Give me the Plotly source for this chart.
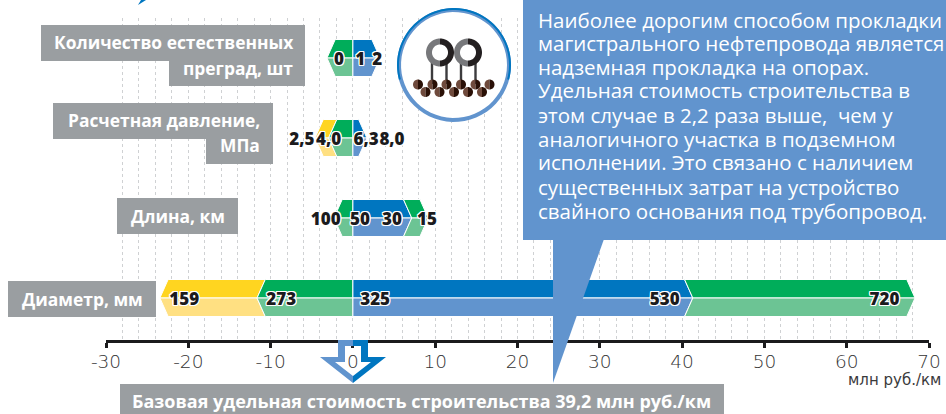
import numpy as np
import plotly.graph_objects as go

W, H = 946, 414
L, R, T, B = 106, 929, 18, 340

# ---- data ----
row_names = ["Диаметр, мм", "Длина, км", "Расчетная давление, МПа", "Количество естественных преград, шт"]
row_index = [0, 1, 2, 3]
# segment ends, млн руб./км, from the far negative end to the far positive end
diam_ends = [-23.45, -11.65, 0, 41.3, 68.3]
diam_colors = ["yellow", "green", "blue", "green"]
diam_labels = ["159", "273", "325", "530", "720"]
diam_label_x = [-20.5, -8.7, 2.7, 37.9, 64.6]

length_ends = [-2.3, 0, 7.15, 9.15]
length_colors = ["green", "blue", "green"]
length_labels = ["100", "50", "30", "15"]
length_label_x = [-3.3, 0.85, 4.75, 9.0]

press_ends = [-4.6, -2.95, 0, 1.7]
press_colors = ["yellow", "green", "blue"]
press_labels = ["2,5", "4,0", "6,3", "8,0"]
press_label_x = [-6.2, -2.95, 1.6, 4.75]

obst_ends = [-3.15, 0, 3.3]
obst_colors = ["green", "blue"]
obst_labels = ["0", "1", "2"]
obst_label_x = [-1.7, 0.9, 2.95]

tick_values = [-30, -20, -10, 0, 10, 20, 30, 40, 50, 60, 70]
tick_labels = ["-30", "-20", "-10", "0", "10", "20", "30", "40", "50", "60", "70"]

unit_text = "млн руб./км"
base_text = "Базовая удельная стоимость строительства 39,2 млн руб./км"
note_lines = [
    "Наиболее дорогим способом прокладки",
    "магистрального нефтепровода является",
    "надземная прокладка на опорах.",
    "Удельная стоимость строительства в",
    "этом случае в 2,2 раза выше,  чем у",
    "аналогичного участка в подземном",
    "исполнении. Это связано с наличием",
    "существенных затрат на устройство",
    "свайного основания под трубопровод.",
]

# ---- styles ----
DARK = {"yellow": "#FFD520", "green": "#00AD5A", "blue": "#0076C0"}
LIGHT = {"yellow": "#FFE082", "green": "#6CC494", "blue": "#6194CE"}
GRAY = "#9A9EA1"
INK = "#1B1B1D"
GRID = "#CFD1D3"
HALF = 18.5 / 80
CHEV = 1.0
LABEL_DROP = 0.03
HALO = "1px 1px 0 #fff,-1px -1px 0 #fff,1px -1px 0 #fff,-1px 1px 0 #fff,0 1px 0 #fff,0 -1px 0 #fff,1px 0 0 #fff,-1px 0 0 #fff"
SANS = "Open Sans"
LIGHTFONT = "Open Sans"
BOLD = 17.4


def sh(v):
    """Shoulder of a chevron tip at v."""
    return 0 if v == 0 else v - np.sign(v) * CHEV


fig = go.Figure()


def add_row(row, ends, colors, labels, label_x):
    for a, b, c in zip(ends[:-1], ends[1:], colors):
        for side, col in ((1, DARK[c]), (-1, LIGHT[c])):
            fig.add_trace(go.Scatter(
                x=[a, sh(a), sh(b), b, a],
                y=[row, row + side * HALF, row + side * HALF, row, row],
                mode="lines", fill="toself", fillcolor=col,
                line=dict(color="#ffffff", width=1), hoverinfo="skip", showlegend=False,
            ))
    fig.add_trace(go.Scatter(
        x=label_x, y=[row - LABEL_DROP] * len(labels), text=labels, mode="text",
        textposition="middle center",
        textfont=dict(family=SANS, size=17, color=INK, weight=800, shadow=HALO),
        hoverinfo="skip", showlegend=False,
    ))


add_row(row_index[0], diam_ends, diam_colors, diam_labels, diam_label_x)
add_row(row_index[1], length_ends, length_colors, length_labels, length_label_x)
add_row(row_index[2], press_ends, press_colors, press_labels, press_label_x)
add_row(row_index[3], obst_ends, obst_colors, obst_labels, obst_label_x)


# ---- page-pixel helpers for the decoration ----
def px(x):
    return (x - L) / (R - L)


def py(y):
    return (B - y) / (B - T)


def poly(points, close=True):
    s = "M " + " L ".join(f"{px(x):.5f},{py(y):.5f}" for x, y in points)
    return s + (" Z" if close else "")


shapes, annos = [], []


def add_poly(points, fill):
    shapes.append(dict(type="path", xref="paper", yref="paper", path=poly(points),
                       fillcolor=fill, line=dict(width=0), layer="above"))


def add_rect(x0, y0, x1, y1, fill):
    add_poly([(x0, y0), (x1, y0), (x1, y1), (x0, y1)], fill)


def arc(cx, cy, r, a0, a1, n=60):
    t = np.radians(np.linspace(a0, a1, n))
    return [(cx + r * np.cos(a), cy - r * np.sin(a)) for a in t]


def ring_part(cx, cy, r0, r1, a0, a1, fill):
    add_poly(arc(cx, cy, r1, a0, a1) + arc(cx, cy, r0, a1, a0), fill)


def text(x, y, s, size, color="#ffffff", anchor="left", family=SANS, weight="normal"):
    annos.append(dict(xref="paper", yref="paper", x=px(x), y=py(y), text=s, showarrow=False,
                      xanchor=anchor, yanchor="middle", align=anchor,
                      font=dict(family=family, size=size, color=color, weight=weight)))


# sliver of an element cropped at the top of the page
add_poly([(138, 5), (141, 0), (146, 0)], "#0076C0")

# grey row labels
add_rect(41, 25, 305, 61, GRAY)
add_rect(169, 61, 305, 86, GRAY)
add_rect(53, 103, 273, 139, GRAY)
add_rect(206, 139, 273, 164, GRAY)
add_rect(117, 198, 238, 234, GRAY)
add_rect(8, 281, 156, 317, GRAY)
add_rect(120, 384, 724, 414, GRAY)
text(295, 42, "Количество естественных", BOLD, anchor="right", weight="bold")
text(295, 68, "преград, шт", BOLD, anchor="right", weight="bold")
text(262, 120, "Расчетная давление,", BOLD, anchor="right", weight="bold")
text(262, 145, "МПа", BOLD, anchor="right", weight="bold")
text(177.5, 216, "Длина, км", BOLD, anchor="center", weight="bold")
text(82.5, 299, "Диаметр, мм", BOLD, anchor="center", weight="bold")
text(421.5, 401, base_text, 18, anchor="center", weight="bold")

# base-cost arrow, hollow so that the 0 tick label stays visible
left_outer = [(353, 383), (320, 357), (338, 357), (338, 340), (353, 340)]
left_inner = [(353, 376), (335, 362), (345, 362), (345, 346), (353, 346)]
add_poly(left_outer + left_inner[::-1], LIGHT["blue"])
right_outer = [(353, 383), (386, 357), (368, 357), (368, 340), (353, 340)]
right_inner = [(353, 376), (371, 362), (361, 362), (361, 346), (353, 346)]
add_poly(right_outer + right_inner[::-1], DARK["blue"])

# call-out
add_rect(523, 0, 946, 240, LIGHT["blue"])
add_poly([(553, 239), (604, 239), (553, 383)], LIGHT["blue"])
note_y = [19.5, 43.5, 66.5, 89.5, 114.5, 138.5, 161.5, 186.5, 210.5]
for yy, line in zip(note_y, note_lines):
    text(536, yy, line, 20.5, family=LIGHTFONT)

text(943, 380, unit_text, 15, color="#3A3A3C", anchor="right", family="DejaVu Sans")

# pictogram
cx, cy = 454, 65
add_poly(arc(cx, cy, 57, 0, 360, 120), "#ffffff")
ring_part(cx, cy, 53, 57, 0, 360, LIGHT["blue"])
ring_part(cx, cy, 55, 57, -15, 195, DARK["blue"])
for x in (432, 446.5, 461, 475.5):
    add_rect(x - 1.2, 62, x + 1.2, 84, "#3C3C3E")
for x in (440, 468):
    ring_part(x, 52.5, 8, 14, 90, 270, "#77787B")
    ring_part(x, 52.5, 8, 14, -90, 90, "#231F20")
for x, y in [(v, 84.5) for v in (418, 432.5, 446.5, 461, 475.5, 489.5)] + [(v, 92) for v in (425.5, 439.5, 454, 468, 482)]:
    add_poly(arc(x, y, 5, 90, 270, 24), "#6F4A3C")
    add_poly(arc(x, y, 5, -90, 90, 24), "#2A1006")

fig.update_layout(
    width=W, height=H, autosize=False,
    margin=dict(l=L, r=W - R, t=T, b=H - B, pad=0),
    paper_bgcolor="#ffffff", plot_bgcolor="#ffffff",
    showlegend=False, shapes=shapes, annotations=annos,
    xaxis=dict(
        range=[-30, 70], tickmode="array", tickvals=tick_values, ticktext=tick_labels,
        automargin=False, ticklabelstandoff=-2,
        ticks="outside", ticklen=5, tickwidth=3, tickcolor=INK,
        tickfont=dict(family="DejaVu Sans", size=18.5, color="#333333", weight=200),
        showline=True, linecolor=INK, linewidth=3, zeroline=False,
        showgrid=True, griddash="dot", gridcolor=GRID, gridwidth=1,
        minor=dict(dtick=2, tick0=0, showgrid=True, griddash="dot", gridcolor=GRID, gridwidth=1, ticks=""),
    ),
    yaxis=dict(range=[-0.525, 3.5], automargin=False, showticklabels=False, showgrid=False, zeroline=False, ticks=""),
)

fig.write_html("out.html", config={"displayModeBar": False, "responsive": False},
               default_width="946px", default_height="414px",
               post_script="document.body.style.margin='0';document.documentElement.style.overflow='hidden';")
